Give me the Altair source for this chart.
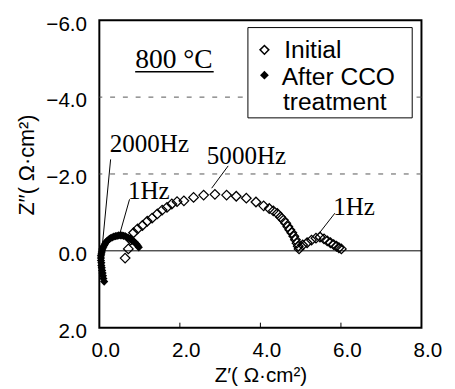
import altair as alt
import pandas as pd

# Initial (open diamonds): Z' and Z''
init_x = [0.64, 0.72, 0.78, 0.85, 0.95, 1.07, 1.19, 1.31, 1.44, 1.56, 1.68, 1.80, 1.93,
          2.10, 2.34, 2.59, 2.87, 3.16, 3.40, 3.65, 3.89, 4.08, 4.22, 4.32, 4.42, 4.50,
          4.57, 4.63, 4.68, 4.73, 4.78, 4.83, 4.87, 4.91, 4.94, 4.96, 5.05, 5.16, 5.27,
          5.38, 5.48, 5.58, 5.66, 5.74, 5.82, 5.89, 5.95, 6.01]
init_y = [0.19, -0.05, -0.28, -0.47, -0.57, -0.66, -0.77, -0.85, -0.96, -1.06, -1.13, -1.22, -1.28,
          -1.30, -1.39, -1.45, -1.47, -1.45, -1.42, -1.37, -1.27, -1.17, -1.10, -1.04, -0.97, -0.88,
          -0.80, -0.72, -0.63, -0.55, -0.47, -0.38, -0.29, -0.20, -0.12, -0.05, -0.15, -0.21, -0.28,
          -0.33, -0.36, -0.31, -0.26, -0.21, -0.16, -0.12, -0.08, -0.05]

# After CCO treatment (filled diamonds)
cco_x = [0.12, 0.10, 0.09, 0.08, 0.07, 0.06, 0.05, 0.05, 0.04, 0.04, 0.04, 0.05, 0.06, 0.07,
         0.08, 0.10, 0.12, 0.14, 0.16, 0.19, 0.22, 0.25, 0.28, 0.32, 0.36, 0.40, 0.44, 0.48,
         0.52, 0.56, 0.60, 0.64, 0.68, 0.72, 0.76, 0.80, 0.84, 0.88, 0.92, 0.95, 0.98]
cco_y = [0.80, 0.72, 0.65, 0.58, 0.51, 0.44, 0.38, 0.31, 0.25, 0.19, 0.13, 0.08, 0.03, -0.02,
         -0.06, -0.10, -0.14, -0.18, -0.22, -0.25, -0.28, -0.31, -0.33, -0.35, -0.37, -0.38, -0.39,
         -0.40, -0.40, -0.40, -0.39, -0.38, -0.36, -0.34, -0.31, -0.28, -0.25, -0.22, -0.18, -0.14, -0.09]

# Frequency annotations
ann_text = ["2000Hz", "5000Hz", "1Hz", "1Hz"]
ann_x = [0.26, 2.67, 0.71, 5.81]
ann_y = [-2.58, -2.26, -1.36, -0.94]
lead_x = [0.28, 3.20, 0.75, 5.85]
lead_y = [-2.38, -2.21, -1.34, -0.98]
lead_x2 = [0.08, 2.79, 0.51, 5.44]
lead_y2 = [-0.20, -1.63, -0.45, -0.43]

grid_y = [-4, -2]
tick_x = [2, 4, 6]

xs = alt.Scale(domain=[0, 8], nice=False, zero=False, padding=0)
ys = alt.Scale(domain=[-6, 2], reverse=True, nice=False, zero=False, padding=0)

X = alt.X("x:Q", scale=xs, axis=alt.Axis(
    values=[0, 2, 4, 6, 8], format=".1f", title="Z′( Ω·cm²)", ticks=False, grid=False,
    domain=False, labelFlush=False, labelFont="Liberation Sans", labelFontSize=21,
    labelColor="black", labelPadding=12, labelOffset=6, titleFont="Liberation Sans",
    titleFontSize=21, titleFontWeight="normal", titleColor="black", titlePadding=5))
Y = alt.Y("y:Q", scale=ys, axis=alt.Axis(
    values=[-6, -4, -2, 0, 2], format=".1f", title="Z′′( Ω·cm²)", ticks=False, grid=False,
    domain=False, labelFlush=False, labelFont="Liberation Sans", labelFontSize=21,
    labelColor="black", labelPadding=13, labelOffset=4, titleFont="Liberation Sans",
    titleFontSize=22, titleFontWeight="normal", titleColor="black", titlePadding=8,
    titleY=147))

grid = alt.Chart(pd.DataFrame({"y": grid_y})).mark_rule(
    color="#555", strokeWidth=1, strokeDash=[5, 8]).encode(y=Y)
zero = alt.Chart(pd.DataFrame({"y": [0]})).mark_rule(color="black", strokeWidth=1).encode(y=Y)
ticks = alt.Chart(pd.DataFrame({"x": tick_x, "y": [2] * 3, "y2": [1.87] * 3})).mark_rule(
    color="black", strokeWidth=1).encode(x=X, y=Y, y2="y2:Q")

legbox = alt.Chart(pd.DataFrame({"x": [3.69], "x2": [7.77], "y": [-5.81], "y2": [-3.46]})).mark_rect(
    fill="white", stroke="black", strokeWidth=1).encode(x=X, x2="x2:Q", y=Y, y2="y2:Q")

init = alt.Chart(pd.DataFrame({"x": init_x, "y": init_y})).mark_point(
    shape="diamond", filled=False, color="black", strokeWidth=1.3, size=95, opacity=1).encode(x=X, y=Y)
cco = alt.Chart(pd.DataFrame({"x": cco_x, "y": cco_y})).mark_point(
    shape="diamond", filled=True, color="black", size=70, opacity=1).encode(x=X, y=Y)

leads = alt.Chart(pd.DataFrame({"x": lead_x, "y": lead_y, "x2": lead_x2, "y2": lead_y2})).mark_rule(
    color="black", strokeWidth=1).encode(x=X, y=Y, x2="x2:Q", y2="y2:Q")
ann = alt.Chart(pd.DataFrame({"x": ann_x, "y": ann_y, "t": ann_text})).mark_text(
    font="Liberation Serif", fontSize=25.5, align="left", baseline="alphabetic", color="black").encode(
    x=X, y=Y, text="t:N")

temp = alt.Chart(pd.DataFrame({"x": [0.89], "y": [-4.76], "t": ["800 °C"]})).mark_text(
    font="Liberation Serif", fontSize=28, align="left", baseline="alphabetic", color="black").encode(
    x=X, y=Y, text="t:N")
underline = alt.Chart(pd.DataFrame({"x": [0.89], "x2": [2.84], "y": [-4.66]})).mark_rule(
    color="black", strokeWidth=1.5).encode(x=X, x2="x2:Q", y=Y)

leg_open = alt.Chart(pd.DataFrame({"x": [4.10], "y": [-5.23]})).mark_point(
    shape="diamond", filled=False, color="black", strokeWidth=1.5, size=80, opacity=1).encode(x=X, y=Y)
leg_fill = alt.Chart(pd.DataFrame({"x": [4.10], "y": [-4.57]})).mark_point(
    shape="diamond", filled=True, color="black", size=80, opacity=1).encode(x=X, y=Y)
leg_text = alt.Chart(pd.DataFrame({"x": [4.59, 4.53, 4.56], "y": [-5.23, -4.51, -3.87],
                                   "t": ["Initial", "After CCO", "treatment"]})).mark_text(
    font="Liberation Sans", fontSize=25, align="left", baseline="middle", color="black").encode(
    x=X, y=Y, text="t:N")

chart = alt.layer(grid, zero, legbox, ticks, init, cco, leads, ann, temp, underline,
                  leg_open, leg_fill, leg_text).properties(
    width=328, height=313,
    padding={"left": 93, "top": 9, "right": 26, "bottom": 62},
    autosize=alt.AutoSizeParams(type="none"),
).configure_view(stroke="black", strokeWidth=2)

chart.save("out.html", embed_options={"renderer": "svg", "actions": False})
